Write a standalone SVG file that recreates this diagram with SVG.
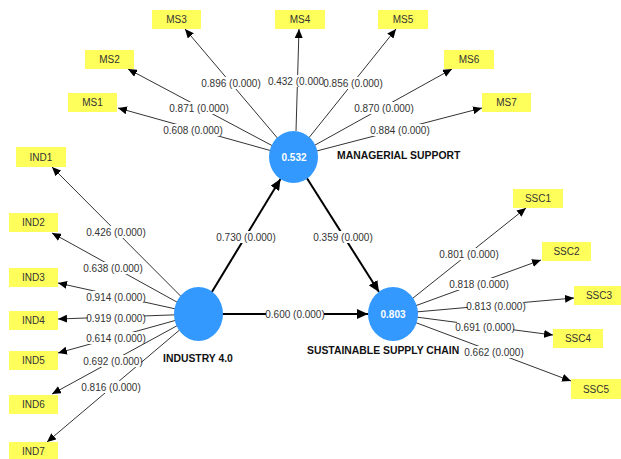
<svg xmlns="http://www.w3.org/2000/svg" width="621" height="459" viewBox="0 0 621 459">
<style>
text{font-family:"Liberation Sans",Arial,sans-serif}
.ind{stroke:#333;stroke-width:1;fill:none}
.str{stroke:#000;stroke-width:2;fill:none}
.box{fill:#ffff5c}
.bt{font-size:10px;fill:#333;text-anchor:middle}
.lb{fill:#fff}
.lt{font-size:10px;fill:#333;text-anchor:middle}
.cv{fill:#3399ff}
.ct{font-size:10px;font-weight:bold;fill:#fff;text-anchor:middle}
.nt{font-size:10.4px;font-weight:bold;fill:#111}
</style>
<defs>
<marker id="a" markerUnits="userSpaceOnUse" markerWidth="10" markerHeight="8" refX="9" refY="4" orient="auto"><path d="M0,0 L9,4 L0,8 Z" fill="#000"/></marker>
<marker id="b" markerUnits="userSpaceOnUse" markerWidth="12" markerHeight="10" refX="11" refY="5" orient="auto"><path d="M0,0 L11,5 L0,10 Z" fill="#000"/></marker>
</defs>
<g id="connectors">
<line class="ind" x1="293.5" y1="157" x2="185" y2="29" marker-end="url(#a)"/>
<line class="ind" x1="296" y1="131" x2="299" y2="29" marker-end="url(#a)"/>
<line class="ind" x1="293.5" y1="157" x2="396" y2="29" marker-end="url(#a)"/>
<line class="ind" x1="293.5" y1="157" x2="128" y2="69" marker-end="url(#a)"/>
<line class="ind" x1="293.5" y1="157" x2="452" y2="69" marker-end="url(#a)"/>
<line class="ind" x1="293.5" y1="157" x2="118" y2="108" marker-end="url(#a)"/>
<line class="ind" x1="293.5" y1="157" x2="482" y2="108" marker-end="url(#a)"/>
<line class="ind" x1="198.5" y1="314" x2="52" y2="167" marker-end="url(#a)"/>
<line class="ind" x1="198.5" y1="314" x2="52" y2="233" marker-end="url(#a)"/>
<line class="ind" x1="198.5" y1="314" x2="58" y2="283" marker-end="url(#a)"/>
<line class="ind" x1="198.5" y1="314" x2="58" y2="319" marker-end="url(#a)"/>
<line class="ind" x1="198.5" y1="314" x2="58" y2="353" marker-end="url(#a)"/>
<line class="ind" x1="198.5" y1="314" x2="52" y2="394" marker-end="url(#a)"/>
<line class="ind" x1="198.5" y1="314" x2="47" y2="442" marker-end="url(#a)"/>
<line class="ind" x1="393" y1="314" x2="526" y2="208" marker-end="url(#a)"/>
<line class="ind" x1="393" y1="314" x2="541" y2="260" marker-end="url(#a)"/>
<line class="ind" x1="393" y1="314" x2="574" y2="298" marker-end="url(#a)"/>
<line class="ind" x1="393" y1="314" x2="553" y2="335" marker-end="url(#a)"/>
<line class="ind" x1="393" y1="314" x2="571" y2="381" marker-end="url(#a)"/>
<line class="str" x1="198.5" y1="314" x2="280.5" y2="179" marker-end="url(#b)"/>
<line class="str" x1="293.5" y1="157" x2="379" y2="292" marker-end="url(#b)"/>
<line class="str" x1="198.5" y1="314" x2="368" y2="314" marker-end="url(#b)"/>
</g>
<g id="labels">
<rect class="lb" x="203" y="77" width="56" height="12"/><text class="lt" x="231" y="86.5">0.896 (0.000)</text>
<rect class="lb" x="268" y="75" width="56" height="12"/><text class="lt" x="296" y="84.5">0.432 (0.000</text>
<rect class="lb" x="325" y="77" width="56" height="12"/><text class="lt" x="353" y="86.5">0.856 (0.000)</text>
<rect class="lb" x="171" y="102" width="56" height="12"/><text class="lt" x="199" y="111.5">0.871 (0.000)</text>
<rect class="lb" x="356" y="102" width="56" height="12"/><text class="lt" x="384" y="111.5">0.870 (0.000)</text>
<rect class="lb" x="165" y="124" width="56" height="12"/><text class="lt" x="193" y="133.5">0.608 (0.000)</text>
<rect class="lb" x="372" y="124" width="56" height="12"/><text class="lt" x="400" y="133.5">0.884 (0.000)</text>
<rect class="lb" x="88" y="226" width="56" height="12"/><text class="lt" x="116" y="235.5">0.426 (0.000)</text>
<rect class="lb" x="85" y="262" width="56" height="12"/><text class="lt" x="113" y="271.5">0.638 (0.000)</text>
<rect class="lb" x="88" y="291" width="56" height="12"/><text class="lt" x="116" y="300.5">0.914 (0.000)</text>
<rect class="lb" x="88" y="312" width="56" height="12"/><text class="lt" x="116" y="321.5">0.919 (0.000)</text>
<rect class="lb" x="88" y="332" width="56" height="12"/><text class="lt" x="116" y="341.5">0.614 (0.000)</text>
<rect class="lb" x="85" y="355" width="56" height="12"/><text class="lt" x="113" y="364.5">0.692 (0.000)</text>
<rect class="lb" x="83" y="381" width="56" height="12"/><text class="lt" x="111" y="390.5">0.816 (0.000)</text>
<rect class="lb" x="441" y="248" width="56" height="12"/><text class="lt" x="469" y="257.5">0.801 (0.000)</text>
<rect class="lb" x="451" y="278" width="56" height="12"/><text class="lt" x="479" y="287.5">0.818 (0.000)</text>
<rect class="lb" x="468" y="300" width="56" height="12"/><text class="lt" x="496" y="309.5">0.813 (0.000)</text>
<rect class="lb" x="457" y="321" width="56" height="12"/><text class="lt" x="485" y="330.5">0.691 (0.000)</text>
<rect class="lb" x="466" y="346" width="56" height="12"/><text class="lt" x="494" y="355.5">0.662 (0.000)</text>
<rect class="lb" x="218" y="231" width="56" height="12"/><text class="lt" x="246" y="240.5">0.730 (0.000)</text>
<rect class="lb" x="315" y="231" width="56" height="12"/><text class="lt" x="343" y="240.5">0.359 (0.000)</text>
<rect class="lb" x="266" y="308" width="58" height="12"/><text class="lt" x="295" y="317.5">0.600 (0.000)</text>
</g>
<g id="MS"><ellipse class="cv" cx="293.5" cy="157" rx="24.5" ry="26"/><text class="ct" x="294" y="160.5">0.532</text><text class="nt" x="337" y="159">MANAGERIAL SUPPORT</text></g>
<g id="IND"><ellipse class="cv" cx="198.5" cy="314" rx="24.5" ry="27"/><text class="nt" x="163" y="361.5">INDUSTRY 4.0</text></g>
<g id="SSC"><ellipse class="cv" cx="393" cy="314" rx="25" ry="27"/><text class="ct" x="393" y="317.5">0.803</text><text class="nt" x="307" y="354">SUSTAINABLE SUPPLY CHAIN</text></g>
<g id="MS1"><rect class="box" x="68" y="93" width="49" height="19"/><text class="bt" x="92.5" y="106">MS1</text></g>
<g id="MS2"><rect class="box" x="85" y="50" width="49" height="19"/><text class="bt" x="109.5" y="63">MS2</text></g>
<g id="MS3"><rect class="box" x="152" y="10" width="49" height="19"/><text class="bt" x="176.5" y="23">MS3</text></g>
<g id="MS4"><rect class="box" x="275" y="10" width="50" height="19"/><text class="bt" x="300" y="23">MS4</text></g>
<g id="MS5"><rect class="box" x="378" y="10" width="50" height="19"/><text class="bt" x="403" y="23">MS5</text></g>
<g id="MS6"><rect class="box" x="444" y="50" width="50" height="19"/><text class="bt" x="469" y="63">MS6</text></g>
<g id="MS7"><rect class="box" x="482" y="93" width="49" height="19"/><text class="bt" x="506.5" y="106">MS7</text></g>
<g id="IND1"><rect class="box" x="16" y="147" width="50" height="20"/><text class="bt" x="41" y="160.5">IND1</text></g>
<g id="IND2"><rect class="box" x="9" y="213" width="49" height="19"/><text class="bt" x="33.5" y="226">IND2</text></g>
<g id="IND3"><rect class="box" x="9" y="268" width="49" height="19"/><text class="bt" x="33.5" y="281">IND3</text></g>
<g id="IND4"><rect class="box" x="9" y="311" width="49" height="19"/><text class="bt" x="33.5" y="324">IND4</text></g>
<g id="IND5"><rect class="box" x="9" y="351" width="49" height="19"/><text class="bt" x="33.5" y="364">IND5</text></g>
<g id="IND6"><rect class="box" x="9" y="395" width="49" height="19"/><text class="bt" x="33.5" y="408">IND6</text></g>
<g id="IND7"><rect class="box" x="9" y="442" width="49" height="19"/><text class="bt" x="33.5" y="455">IND7</text></g>
<g id="SSC1"><rect class="box" x="513" y="189" width="50" height="19"/><text class="bt" x="538" y="202">SSC1</text></g>
<g id="SSC2"><rect class="box" x="542" y="242" width="49" height="19"/><text class="bt" x="566.5" y="255">SSC2</text></g>
<g id="SSC3"><rect class="box" x="574" y="286" width="47" height="19"/><text class="bt" x="599" y="299">SSC3</text></g>
<g id="SSC4"><rect class="box" x="553" y="329" width="50" height="19"/><text class="bt" x="578" y="342">SSC4</text></g>
<g id="SSC5"><rect class="box" x="571" y="379" width="50" height="20"/><text class="bt" x="596" y="392.5">SSC5</text></g>
</svg>
